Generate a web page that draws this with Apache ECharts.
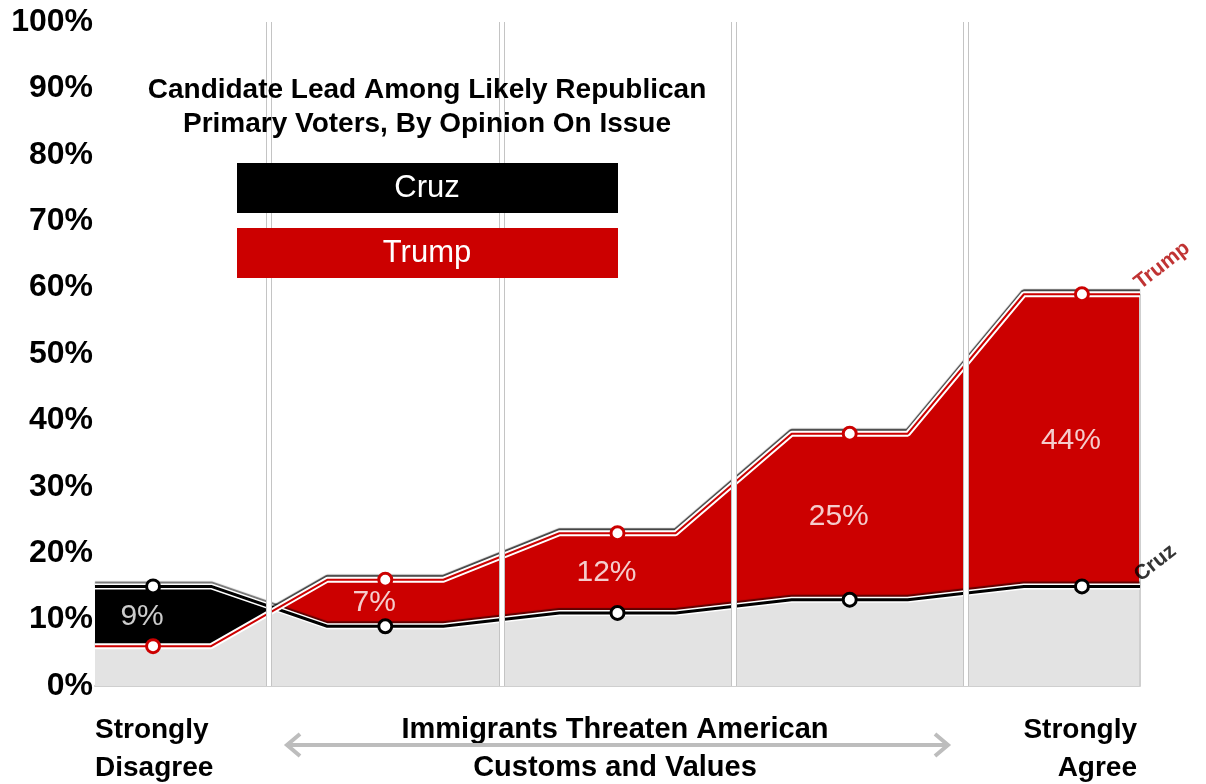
<!DOCTYPE html>
<html>
<head>
<meta charset="utf-8">
<style>
  html, body { margin: 0; padding: 0; background: #fff; }
  #main { width: 1206px; height: 784px; }
</style>
<script src="https://cdn.jsdelivr.net/npm/echarts@6/dist/echarts.min.js"></script>
</head>
<body>
<div id="main"></div>
<script>
// opinion levels, strongly disagree -> strongly agree
const levels = ['Strongly Disagree', 'Disagree', 'Neutral', 'Agree', 'Strongly Agree']
const trump = [6, 16, 23, 38, 59]
const cruz = [15, 9, 11, 13, 15]
const leadLabels = ['9%', '7%', '12%', '25%', '44%']
const dividers = [0.5, 1.5, 2.5, 3.5]

const FONT = '"Liberation Sans", Arial, sans-serif'

// flat shelf around each level, sloped in between
function shelf(vals) {
  let pts = []
  vals.forEach((v, i) => {
    pts.push([i - 0.25, v])
    pts.push([i + 0.25, v])
  })
  return pts
}
const trumpPath = shelf(trump)
const cruzPath = shelf(cruz)

// lower envelope of the two lines, crossings added
function lowerPath(a, b) {
  let pts = []
  for (let k = 0; k < a.length; k++) {
    if (k > 0) {
      let d0 = a[k - 1][1] - b[k - 1][1]
      let d1 = a[k][1] - b[k][1]
      if (d0 * d1 < 0) {
        let s = d0 / (d0 - d1)
        pts.push([
          a[k - 1][0] + s * (a[k][0] - a[k - 1][0]),
          a[k - 1][1] + s * (a[k][1] - a[k - 1][1])
        ])
      }
    }
    pts.push([a[k][0], Math.min(a[k][1], b[k][1])])
  }
  return pts
}
const basePath = lowerPath(trumpPath, cruzPath)
const last = trumpPath[trumpPath.length - 1]

function area(name, data, color, z) {
  return {
    name, type: 'line', data, z, silent: true, showSymbol: false,
    lineStyle: { width: 0 },
    areaStyle: { color, opacity: 1 }
  }
}
function outline(data, color, width, shadow, z) {
  return {
    type: 'line', data, z, silent: true, showSymbol: false,
    lineStyle: { color, width, shadowColor: shadow, shadowOffsetY: shadow ? -2 : 0, shadowBlur: shadow ? 1 : 0 }
  }
}
function dividerLines(color, width, z) {
  return {
    type: 'line', data: [], z, silent: true,
    markLine: {
      silent: true, symbol: 'none', label: { show: false },
      lineStyle: { color, width, type: 'solid' },
      data: dividers.map(x => ({ xAxis: x }))
    }
  }
}
function markers(vals, border) {
  return {
    type: 'scatter', z: 6, silent: true,
    data: vals.map((v, i) => [i, v]),
    symbol: 'circle', symbolSize: 13,
    itemStyle: { color: '#fff', borderColor: border, borderWidth: 3, opacity: 1 }
  }
}
function endLabel(text, v, color) {
  return {
    type: 'scatter', z: 7, silent: true, symbolSize: 0,
    data: [[4.25, v]],
    label: {
      show: true, formatter: text, position: 'right', rotate: 38, distance: 0, offset: [3, -9],
      fontFamily: FONT, fontSize: 21, fontWeight: 'bold', color,
      textShadowColor: 'rgba(0,0,0,0.8)', textShadowOffsetX: -1, textShadowOffsetY: 1, textShadowBlur: 0
    }
  }
}

const option = {
  backgroundColor: '#fff',
  animation: false,
  grid: { left: 95, right: 66, top: 22, bottom: 98 },
  xAxis: {
    type: 'value', min: -0.25, max: 4.25,
    axisLine: { show: true, lineStyle: { color: '#cfcfcf', width: 2 } },
    axisTick: { show: false }, axisLabel: { show: false }, splitLine: { show: false }
  },
  yAxis: {
    type: 'value', min: 0, max: 100, interval: 10,
    axisLine: { show: false }, axisTick: { show: false }, splitLine: { show: false },
    axisLabel: { formatter: '{value}%', color: '#000', fontFamily: FONT, fontWeight: 'bold', fontSize: 32, margin: 2 }
  },
  series: [
    dividerLines('#c4c4c4', 6, 1),
    dividerLines('#fff', 3, 1),
    area('Trump', trumpPath, '#cc0000', 2),
    area('Cruz', cruzPath, '#000', 2),
    area('base', basePath, '#e3e3e3', 2),
    outline([[last[0], 0], last], '#cfcfcf', 2, null, 2),
    dividerLines('#fff', 4, 3),
    outline(cruzPath, '#fff', 6, 'rgba(0,0,0,0.55)', 4),
    outline(cruzPath, '#000', 3, null, 4),
    outline(trumpPath, '#fff', 6, 'rgba(0,0,0,0.75)', 4),
    outline(trumpPath, '#cc0000', 2, null, 4),
    markers(trump, '#cc0000'),
    markers(cruz, '#000'),
    {
      type: 'scatter', z: 6, silent: true, symbolSize: 0,
      data: trump.map((t, i) => ({ value: [i, (t + cruz[i]) / 2], label: { formatter: leadLabels[i] } })),
      label: { show: true, position: 'inside', offset: [-11, 0], color: '#fff', fontFamily: FONT, fontSize: 30 }
    },
    endLabel('Trump', trump[4], '#b00000'),
    endLabel('Cruz', cruz[4], '#000')
  ],
  graphic: [
    {
      type: 'text', z: 10,
      style: {
        text: 'Candidate Lead Among Likely Republican\nPrimary Voters, By Opinion On Issue',
        x: 427, y: 107, align: 'center', verticalAlign: 'middle',
        font: 'bold 28px ' + FONT, lineHeight: 34, fill: '#000'
      }
    },
    { type: 'rect', z: 10, shape: { x: 237, y: 163, width: 381, height: 50 }, style: { fill: '#000' } },
    { type: 'text', z: 11, style: { text: 'Cruz', x: 427, y: 188, align: 'center', verticalAlign: 'middle', font: '31px ' + FONT, fill: '#fff' } },
    { type: 'rect', z: 10, shape: { x: 237, y: 228, width: 381, height: 50 }, style: { fill: '#cc0000' } },
    { type: 'text', z: 11, style: { text: 'Trump', x: 427, y: 253, align: 'center', verticalAlign: 'middle', font: '31px ' + FONT, fill: '#fff' } },
    { type: 'text', style: { text: 'Strongly\nDisagree', x: 95, y: 749, align: 'left', verticalAlign: 'middle', font: 'bold 28px ' + FONT, lineHeight: 38, fill: '#000' } },
    { type: 'text', style: { text: 'Immigrants Threaten American\nCustoms and Values', x: 615, y: 749, align: 'center', verticalAlign: 'middle', font: 'bold 29px ' + FONT, lineHeight: 38, fill: '#000' } },
    { type: 'text', style: { text: 'Strongly\nAgree', x: 1137, y: 749, align: 'right', verticalAlign: 'middle', font: 'bold 28px ' + FONT, lineHeight: 38, fill: '#000' } },
    { type: 'line', shape: { x1: 287, y1: 745, x2: 948, y2: 745 }, style: { stroke: '#bdbdbd', lineWidth: 4 } },
    { type: 'polyline', shape: { points: [[300, 734], [287, 745], [300, 756]] }, style: { stroke: '#bdbdbd', lineWidth: 4, fill: null } },
    { type: 'polyline', shape: { points: [[935, 734], [948, 745], [935, 756]] }, style: { stroke: '#bdbdbd', lineWidth: 4, fill: null } }
  ]
}

const chart = echarts.init(document.getElementById('main'))
chart.setOption(option)
</script>
</body>
</html>
